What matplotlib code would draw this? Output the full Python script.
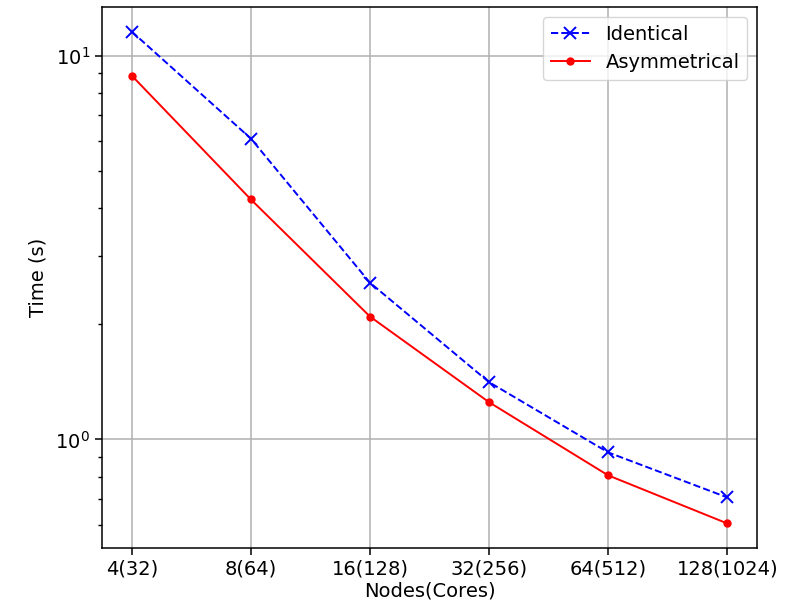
import numpy as np
import matplotlib
matplotlib.use("Agg")
import matplotlib.pyplot as plt

# node counts (cores in brackets) and measured run times in seconds
node_labels = ["4(32)", "8(64)", "16(128)", "32(256)", "64(512)", "128(1024)"]
time_identical = [11.55, 6.08, 2.56, 1.41, 0.925, 0.706]
time_asymmetrical = [8.87, 4.22, 2.09, 1.25, 0.806, 0.604]

plt.rcParams["font.size"] = 14

fig = plt.figure(figsize=(7.87, 6.10), dpi=100)
ax = fig.add_axes([0.1296, 0.1016, 0.8323, 0.8869])

x = np.arange(len(node_labels))
ax.plot(x, time_identical, color="blue", linestyle="--", marker="x",
        lw=1.4, ms=9, mew=1.4, label="Identical")
ax.plot(x, time_asymmetrical, color="red", linestyle="-", marker=".",
        lw=1.4, ms=10, label="Asymmetrical")

ax.set_yscale("log")
ax.set_xticks(x)
ax.set_xticklabels(node_labels)
ax.set_xlabel("Nodes(Cores)", labelpad=2)
ax.set_ylabel("Time (s)", labelpad=6)

ax.grid(True, color="#b0b0b0", lw=1.1)
for s in ax.spines.values():
    s.set_linewidth(1.1)
ax.tick_params(which="major", length=5, width=1.1)
ax.tick_params(which="minor", length=3, width=1.0)

ax.legend(loc="upper right", fancybox=True)

fig.savefig("out.png", dpi=100)
